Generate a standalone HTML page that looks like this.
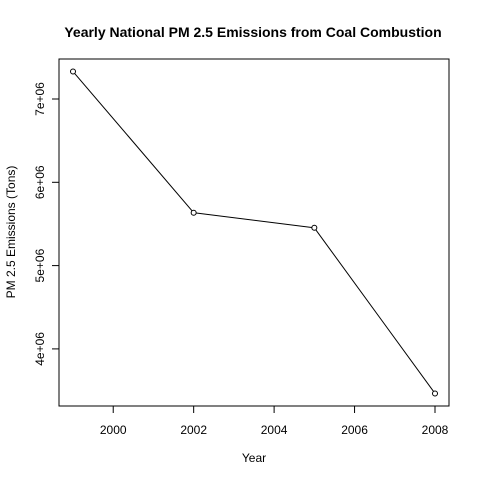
<!DOCTYPE html>
<html><head><meta charset="utf-8"><style>
html,body{margin:0;padding:0;background:#fff;}
svg{display:block;font-family:"Liberation Sans",Arial,sans-serif;}
</style></head><body>
<svg id="chart" width="480" height="480" viewBox="0 0 480 480">
<rect x="0" y="0" width="480" height="480" fill="#fff"/>
<text x="253" y="37" text-anchor="middle" font-size="14" font-weight="bold">Yearly National PM 2.5 Emissions from Coal Combustion</text>
<rect x="59" y="59" width="390" height="347" fill="none" stroke="#000" stroke-width="1"/>
<text x="254" y="462" text-anchor="middle" font-size="12">Year</text>
<text transform="translate(15,232) rotate(-90)" text-anchor="middle" font-size="12">PM 2.5 Emissions (Tons)</text>
<g id="xaxis"></g>
<g id="yaxis"></g>
<g id="series"></g>
</svg>
<script>
const years = [1999, 2002, 2005, 2008];
const emissions = [7330000, 5635000, 5454000, 3465000];
const xTicks = [2000, 2002, 2004, 2006, 2008];
const yTicks = [4000000, 5000000, 6000000, 7000000];
const yTickLabels = ["4e+06", "5e+06", "6e+06", "7e+06"];

const NS = "http://www.w3.org/2000/svg";
function xs(v){ return 73 + (v - 1999) * (435 - 73) / 9; }
function ys(v){ return 99 + (7000000 - v) * 83.3 / 1000000; }
function mk(tag, attrs, parent){
  const e = document.createElementNS(NS, tag);
  for (const k in attrs) e.setAttribute(k, attrs[k]);
  parent.appendChild(e);
  return e;
}
const xg = document.getElementById('xaxis');
xTicks.forEach(t => {
  const l = mk('line', {x1: xs(t), x2: xs(t), y1: 406, y2: 413, stroke: '#000'}, xg);
  
  
  const tx = mk('text', {x: xs(t), y: 434, 'text-anchor': 'middle', 'font-size': 12}, xg);
  tx.textContent = String(t);
  
  
});
const yg = document.getElementById('yaxis');
yTicks.forEach((t, i) => {
  const l = mk('line', {x1: 52, x2: 59, y1: ys(t), y2: ys(t), stroke: '#000'}, yg);
  
  
  const tx = mk('text', {transform: 'translate(44,' + ys(t) + ') rotate(-90)', 'text-anchor': 'middle', 'font-size': 12}, yg);
  tx.textContent = yTickLabels[i];
  
  
});
const sg = document.getElementById('series');
const r = 2.5;
for (let i = 0; i < years.length - 1; i++) {
  const x1 = xs(years[i]), y1 = ys(emissions[i]), x2 = xs(years[i+1]), y2 = ys(emissions[i+1]);
  const d = Math.hypot(x2 - x1, y2 - y1);
  const ux = (x2 - x1) / d, uy = (y2 - y1) / d;
  const l = mk('line', {x1: x1 + ux*r, y1: y1 + uy*r, x2: x2 - ux*r, y2: y2 - uy*r, stroke: '#000', 'stroke-width': 1}, sg);
  
  
}
years.forEach((y, i) => {
  const c = mk('circle', {cx: xs(y), cy: ys(emissions[i]), r: r, fill: 'none', stroke: '#000', 'stroke-width': 1}, sg);
  
  
});
</script>
</body></html>
